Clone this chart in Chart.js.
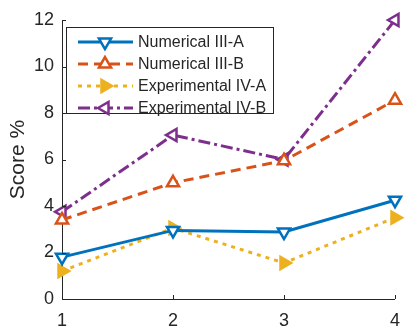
<!DOCTYPE html>
<html>
<head>
<meta charset="utf-8">
<script src="https://cdn.jsdelivr.net/npm/chart.js@4/dist/chart.umd.min.js"></script>
<style>
  html, body { margin: 0; padding: 0; background: #fff; }
  #wrap { width: 411px; height: 327px; }
</style>
</head>
<body>
<div id="wrap"><canvas id="lineChart" width="411" height="327"></canvas></div>
<script>
// x positions and the four series
var cases = [1, 2, 3, 4];
var numericalA = [1.8, 2.95, 2.88, 4.25];
var numericalB = [3.4, 5.0, 5.95, 8.55];
var experimentalA = [1.2, 3.05, 1.55, 3.5];
var experimentalB = [3.75, 7.05, 6.0, 12.0];
var seriesNames = ['Numerical III-A', 'Numerical III-B', 'Experimental IV-A', 'Experimental IV-B'];
var yTicks = [0, 2, 4, 6, 8, 10, 12];

var axisColor = '#262626';
var fontFamily = '"Liberation Sans", Arial, sans-serif';

function pts(values) {
    return values.map(function (v, i) { return { x: cases[i], y: v }; });
}

function makeSet(label, values, color, dash, rotation, fill) {
    return {
        label: label,
        data: pts(values),
        borderColor: color,
        backgroundColor: fill,
        borderWidth: 3,
        borderDash: dash,
        pointStyle: 'triangle',
        pointRotation: rotation,
        pointRadius: 7,
        pointBorderWidth: 2.5,
        pointBorderColor: color,
        pointBackgroundColor: fill,
        tension: 0,
        clip: false
    };
}

// legend with line samples and markers, plus inward tick marks
var boxLegend = {
    id: 'boxLegend',
    afterDraw: function (chart) {
        var ctx = chart.ctx;
        var area = chart.chartArea;
        var xs = chart.scales.x, ys = chart.scales.y;

        ctx.save();
        ctx.strokeStyle = axisColor;
        ctx.lineWidth = 1;
        ctx.beginPath();
        cases.forEach(function (c) {
            var px = Math.round(xs.getPixelForValue(c)) + 0.5;
            ctx.moveTo(px, area.bottom);
            ctx.lineTo(px, area.bottom - 4);
        });
        yTicks.forEach(function (t) {
            var py = Math.round(ys.getPixelForValue(t)) + 0.5;
            ctx.moveTo(area.left, py);
            ctx.lineTo(area.left + 4, py);
        });
        ctx.stroke();

        var bx = area.left + 4, by = area.top + 7, bw = 207, bh = 86;
        ctx.fillStyle = '#fff';
        ctx.fillRect(bx, by, bw, bh);
        ctx.strokeStyle = axisColor;
        ctx.strokeRect(bx + 0.5, by + 0.5, bw, bh);

        ctx.font = '16px ' + fontFamily;
        ctx.textBaseline = 'middle';
        chart.data.datasets.forEach(function (ds, i) {
            var ry = by + 15 + i * 22;
            ctx.save();
            ctx.strokeStyle = ds.borderColor;
            ctx.lineWidth = ds.borderWidth;
            ctx.setLineDash(ds.borderDash || []);
            ctx.beginPath();
            ctx.moveTo(bx + 12, ry);
            ctx.lineTo(bx + 67, ry);
            ctx.stroke();
            ctx.restore();
            ctx.save();
            ctx.lineWidth = ds.pointBorderWidth;
            ctx.strokeStyle = ds.pointBorderColor;
            ctx.fillStyle = ds.pointBackgroundColor;
            Chart.helpers.drawPoint(ctx, {
                pointStyle: 'triangle',
                radius: 7,
                rotation: ds.pointRotation,
                borderWidth: ds.pointBorderWidth
            }, bx + 39, ry);
            ctx.restore();
            ctx.fillStyle = axisColor;
            ctx.textAlign = 'left';
            ctx.fillText(ds.label, bx + 72, ry + 1);
        });
        ctx.restore();
    }
};

var ctx = document.getElementById('lineChart').getContext('2d');
var lineChart = new Chart(ctx, {
    type: 'line',
    data: {
        datasets: [
            makeSet(seriesNames[0], numericalA, '#0072BD', [], 180, '#ffffff'),
            makeSet(seriesNames[1], numericalB, '#D95319', [10, 6], 0, '#ffffff'),
            makeSet(seriesNames[2], experimentalA, '#EDB120', [4, 5], 90, '#EDB120'),
            makeSet(seriesNames[3], experimentalB, '#7E2F8E', [12, 4, 3, 4], -90, '#ffffff')
        ]
    },
    options: {
        responsive: false,
        animation: false,
        layout: { padding: { top: 20, right: 11, left: 0, bottom: 0 } },
        plugins: {
            legend: { display: false },
            tooltip: { enabled: false }
        },
        scales: {
            x: {
                type: 'linear',
                min: 1,
                max: 4,
                afterBuildTicks: function (scale) {
                    scale.ticks = cases.map(function (c) { return { value: c }; });
                },
                afterFit: function (scale) { scale.height = 28; },
                grid: { display: false, drawTicks: false },
                border: { display: true, color: axisColor, width: 1 },
                ticks: {
                    color: axisColor,
                    padding: 11,
                    font: { family: fontFamily, size: 18 }
                }
            },
            y: {
                min: 0,
                max: 12,
                afterBuildTicks: function (scale) {
                    scale.ticks = yTicks.map(function (t) { return { value: t }; });
                },
                afterFit: function (scale) { scale.width = 62; },
                grid: { display: false, drawTicks: false },
                border: { display: true, color: axisColor, width: 1 },
                title: {
                    display: true,
                    text: 'Score %',
                    color: axisColor,
                    padding: { top: 6, bottom: 0 },
                    font: { family: fontFamily, size: 21 }
                },
                ticks: {
                    color: axisColor,
                    padding: 8,
                    font: { family: fontFamily, size: 18 }
                }
            }
        }
    },
    plugins: [boxLegend]
});
</script>
</body>
</html>
